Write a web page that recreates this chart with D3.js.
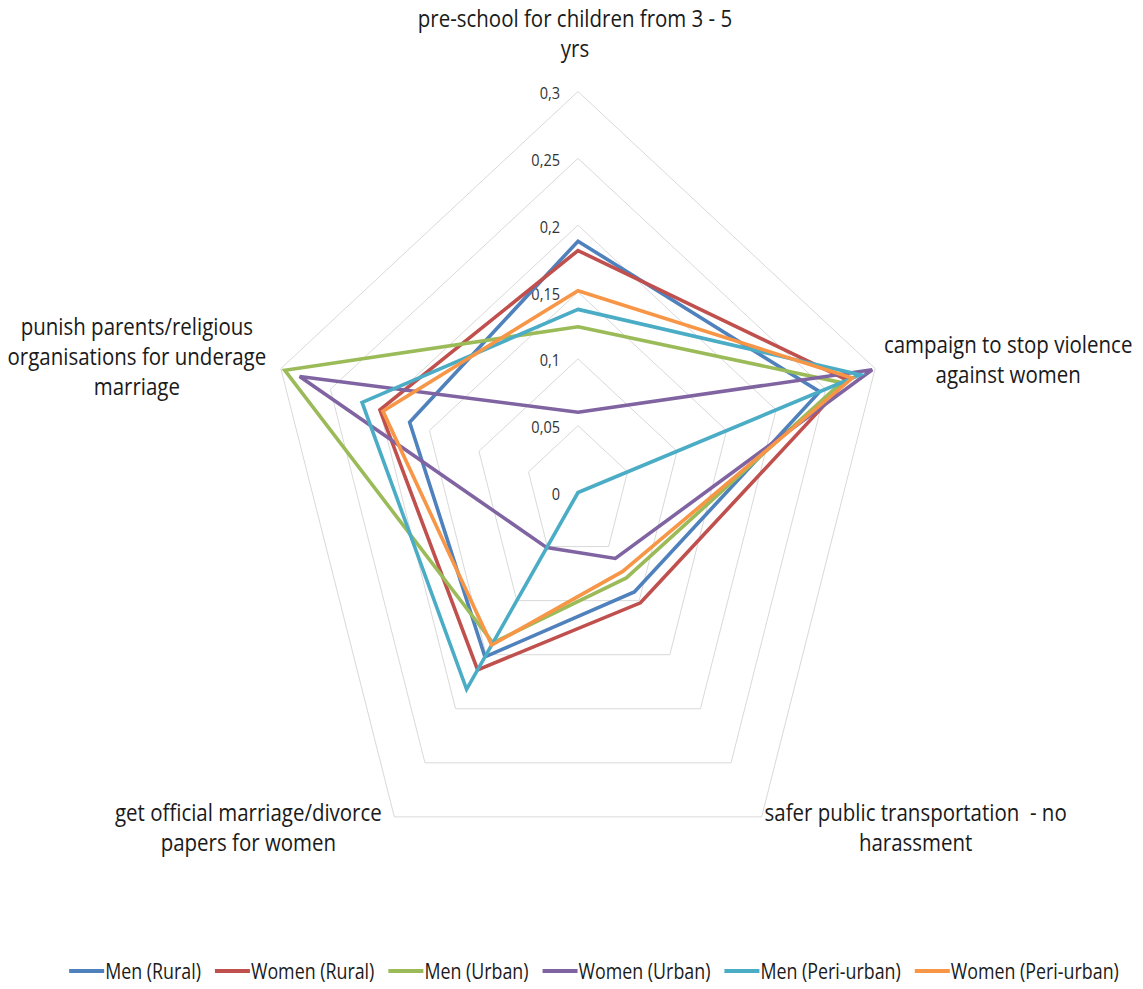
<!DOCTYPE html>
<html>
<head>
<meta charset="utf-8">
<script src="https://cdn.jsdelivr.net/npm/d3@7"></script>
<style>
  html, body { margin: 0; padding: 0; background: #ffffff; }
  svg { display: block; }
  text { font-family: "Open Sans", "Noto Sans", sans-serif; fill: #1a1a1a; white-space: pre; }
</style>
</head>
<body>
<svg id="chart" width="1143" height="989"></svg>
<script>
// Radar axes, clockwise from the top
const categories = [
  ["pre-school for children from 3 - 5", "yrs"],
  ["campaign to stop violence", "against women"],
  ["safer public transportation  - no", "harassment"],
  ["get official marriage/divorce", "papers for women"],
  ["punish parents/religious", "organisations for underage", "marriage"]
];

const seriesNames = [
  "Men (Rural)", "Women (Rural)", "Men (Urban)",
  "Women (Urban)", "Men (Peri-urban)", "Women (Peri-urban)"
];
const seriesColors = ["#4F81BD", "#C0504D", "#9BBB59", "#8064A2", "#4BACC6", "#F79646"];

const menRural        = [0.188, 0.244, 0.092, 0.152, 0.170];
const womenRural      = [0.181, 0.272, 0.102, 0.164, 0.200];
const menUrban        = [0.124, 0.266, 0.079, 0.139, 0.296];
const womenUrban      = [0.060, 0.297, 0.061, 0.051, 0.281];
const menPeriUrban    = [0.137, 0.285, 0.000, 0.182, 0.218];
const womenPeriUrban  = [0.151, 0.277, 0.073, 0.141, 0.197];

const tickValues = [0, 0.05, 0.1, 0.15, 0.2, 0.25, 0.3];
const tickLabels = ["0", "0,05", "0,1", "0,15", "0,2", "0,25", "0,3"];

const seriesValues = [menRural, womenRural, menUrban, womenUrban, menPeriUrban, womenPeriUrban];

// ---- layout ----
const cx = 578, cy = 492.5;
const radius = 401;
const squeezeX = 0.741 / Math.cos(Math.PI / 10); // plot area is narrower than tall

const svg = d3.select("#chart");
const r = d3.scaleLinear().domain([0, 0.3]).range([0, radius]);
const angle = d3.scalePoint().domain(d3.range(categories.length))
  .range([0, 2 * Math.PI * (categories.length - 1) / categories.length]);

const px = (i, v) => cx + squeezeX * r(v) * Math.sin(angle(i));
const py = (i, v) => cy - r(v) * Math.cos(angle(i));

// Text helper: horizontally condensed, positioned with a transform
function label(g, str, x, y, anchor, size, sx) {
  return g.append("text")
    .attr("transform", `translate(${x},${y}) scale(${sx},1)`)
    .attr("text-anchor", anchor)
    .attr("font-size", size)
    .text(str);
}

// ---- grid rings ----
const ring = d3.line().x(d => d[0]).y(d => d[1]).curve(d3.curveLinearClosed);
const gridG = svg.append("g");
tickValues.slice(1).forEach(t => {
  gridG.append("path")
    .attr("d", ring(categories.map((c, i) => [px(i, t), py(i, t)])))
    .attr("fill", "none")
    .attr("stroke", "#d9d9d9")
    .attr("stroke-width", 1);
});

// ---- tick labels along the top axis ----
const tickG = svg.append("g");
tickValues.forEach((t, k) => {
  label(tickG, tickLabels[k], px(0, t) - 18, py(0, t) + 7.5, "end", 16.5, 0.88)
    .style("fill", "#333333");
});

// ---- category labels ----
const catG = svg.append("g");
const labelSpec = [
  { dx: -3,   firstBaseline: v => 27 },
  { dx: 133,  firstBaseline: v => v - 16 },
  { dx: 154,  firstBaseline: v => v + 4 },
  { dx: -146, firstBaseline: v => v + 4 },
  { dx: -144, firstBaseline: v => v - 34 }
];
categories.forEach((lines, i) => {
  const vx = px(i, 0.3), vy = py(i, 0.3);
  const spec = labelSpec[i];
  const y0 = spec.firstBaseline(vy);
  lines.forEach((ln, j) => {
    label(catG, ln, vx + spec.dx, y0 + j * 30, "middle", 23, 0.89);
  });
});

// ---- series ----
const seriesG = svg.append("g");
seriesValues.forEach((vals, s) => {
  seriesG.append("path")
    .attr("d", ring(vals.map((v, i) => [px(i, v), py(i, v)])))
    .attr("fill", "none")
    .attr("stroke", seriesColors[s])
    .attr("stroke-width", 3.6)
    .attr("stroke-linejoin", "miter");
});

// ---- legend ----
const legG = svg.append("g");
const legY = 971;
const legScale = 0.85;
const swatch = 35, gapText = 1, gapItem = 14;
const items = seriesNames.map((name, s) => {
  const g = legG.append("g");
  g.append("line")
    .attr("x1", 0).attr("x2", swatch)
    .attr("y1", 0).attr("y2", 0)
    .attr("stroke", seriesColors[s])
    .attr("stroke-width", 4);
  const t = label(g, name, swatch + gapText, 7.5, "start", 21, legScale);
  const w = swatch + gapText + t.node().getComputedTextLength() * legScale;
  return { g, w };
});
const total = d3.sum(items, d => d.w) + gapItem * (items.length - 1);
let xPos = 594 - total / 2;
items.forEach(it => {
  it.g.attr("transform", `translate(${xPos},${legY})`);
  xPos += it.w + gapItem;
});
</script>
</body>
</html>
